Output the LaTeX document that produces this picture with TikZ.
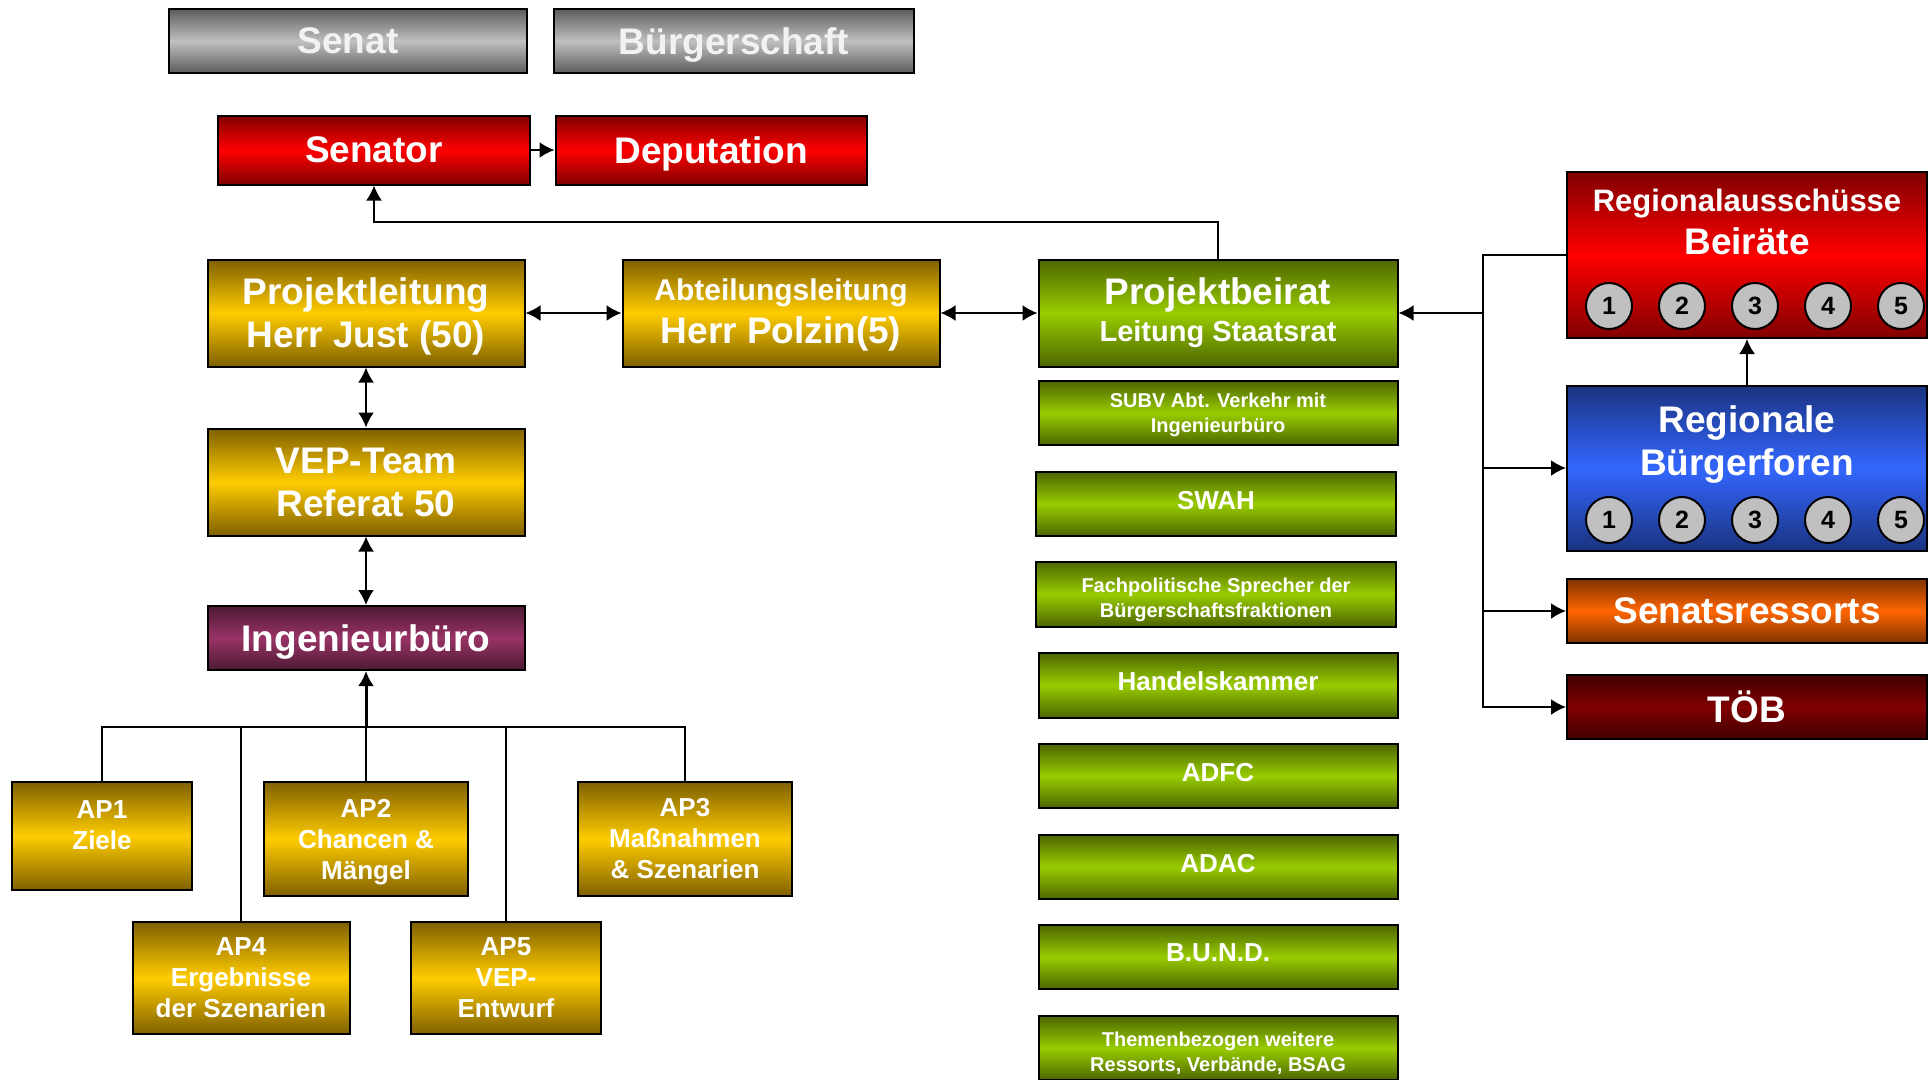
\documentclass[tikz,border=0pt]{standalone}
\usepackage{fontspec}
\setmainfont{Liberation Sans}
\usetikzlibrary{arrows.meta,calc}
\definecolor{GreyDk}{HTML}{5C5C5C}
\definecolor{GreyLt}{HTML}{C0C0C0}
\definecolor{GreyTxt}{HTML}{F2F2F2}
\definecolor{RedDk}{HTML}{800000}
\definecolor{RedLt}{HTML}{FF0000}
\definecolor{GoldDk}{HTML}{7F6000}
\definecolor{GoldLt}{HTML}{FFCC00}
\definecolor{GreenDk}{HTML}{4D6600}
\definecolor{GreenLt}{HTML}{99CC00}
\definecolor{PurpDk}{HTML}{4D1A33}
\definecolor{PurpLt}{HTML}{993366}
\definecolor{BlueDk}{HTML}{1A3380}
\definecolor{BlueLt}{HTML}{3366FF}
\definecolor{OrngDk}{HTML}{803300}
\definecolor{OrngLt}{HTML}{FF6600}
\definecolor{WineDk}{HTML}{400000}
\definecolor{WineLt}{HTML}{800000}

\begin{document}
\begin{tikzpicture}[x=1pt,y=-1pt,line width=2pt,
  >={Latex[length=15pt,width=16pt]},
  box/.style={draw=black,line width=2pt,inner sep=0pt,align=center,text=white},
  fill2/.style 2 args={top color=#1,bottom color=#1,middle color=#2},
  greybox/.style={box,fill2={GreyDk}{GreyLt},text=GreyTxt},
  redbox/.style={box,fill2={RedDk}{RedLt}},
  goldbox/.style={box,fill2={GoldDk}{GoldLt}},
  greenbox/.style={box,fill2={GreenDk}{GreenLt}},
  purpbox/.style={box,fill2={PurpDk}{PurpLt}},
  bluebox/.style={box,fill2={BlueDk}{BlueLt}},
  orngbox/.style={box,fill2={OrngDk}{OrngLt}},
  winebox/.style={box,fill2={WineDk}{WineLt}},
  big/.style={font=\fontsize{37}{43}\selectfont\bfseries},
  mid/.style={font=\fontsize{26}{31}\selectfont\bfseries},
  small/.style={font=\fontsize{20}{25}\selectfont\bfseries},
  nodepth/.style={text depth=0pt},
  raised/.style={text depth=8pt},
  lowered/.style={text height=46pt,text depth=0pt},
  numdot/.style={circle,draw=black,line width=2pt,fill=GreyLt,minimum size=46,inner sep=0pt,
    font=\fontsize{25}{25}\selectfont\bfseries}]
\useasboundingbox (0,0) rectangle (1932,1079);

\node[greybox,big,nodepth,minimum width=358,minimum height=64] (senat) at (348,41) {Senat};
\node[greybox,big,nodepth,minimum width=360,minimum height=64] (buerger) at (734,41) {Bürgerschaft};
\node[redbox,big,nodepth,minimum width=312,minimum height=69] (senator) at (374,150) {Senator};
\node[redbox,big,nodepth,minimum width=311,minimum height=69] (deput) at (711,150) {Deputation};

\node[goldbox,big,nodepth,minimum width=317,minimum height=107] (pleit) at (366,313) {Projektleitung\\Herr Just (50)};
\node[goldbox,big,text depth=4pt,minimum width=317,minimum height=107] (aleit) at (781,313)
  {{\fontsize{30}{36}\selectfont Abteilungsleitung}\\Herr Polzin(5)};
\node[goldbox,big,nodepth,minimum width=317,minimum height=107] (vep) at (366,482) {VEP-Team\\Referat 50};
\node[purpbox,big,nodepth,minimum width=317,minimum height=64] (ingb) at (366,638) {Ingenieurbüro};

\node[goldbox,mid,minimum width=180,minimum height=108] (ap1) at (102,836) {AP1\\Ziele\\[-10pt]{}};
\node[goldbox,mid,nodepth,minimum width=204,minimum height=114] (ap2) at (366,839) {AP2\\Chancen \&\\Mängel};
\node[goldbox,mid,minimum width=214,minimum height=114] (ap3) at (685,839) {AP3\\Maßnahmen\\\& Szenarien};
\node[goldbox,mid,minimum width=217,minimum height=112] (ap4) at (241,978) {AP4\\Ergebnisse\\der Szenarien};
\node[goldbox,mid,minimum width=190,minimum height=112] (ap5) at (506,978) {AP5\\VEP-\\Entwurf};

\node[greenbox,minimum width=359,minimum height=107,font=\fontsize{29}{37}\selectfont\bfseries] (pbeirat) at (1218,313)
  {{\fontsize{37}{43}\selectfont Projektbeirat}\\Leitung Staatsrat};
\node[greenbox,small,nodepth,minimum width=359,minimum height=64] (subv) at (1218,413) {SUBV Abt. Verkehr mit\\Ingenieurbüro};
\node[greenbox,mid,raised,minimum width=360,minimum height=64] (swah) at (1216,504) {SWAH};
\node[greenbox,small,lowered,minimum width=360,minimum height=65] (fach) at (1216,594) {Fachpolitische Sprecher der\\Bürgerschaftsfraktionen};
\node[greenbox,mid,raised,minimum width=359,minimum height=65] (handel) at (1218,685) {Handelskammer};
\node[greenbox,mid,raised,minimum width=359,minimum height=64] (adfc) at (1218,776) {ADFC};
\node[greenbox,mid,raised,minimum width=359,minimum height=64] (adac) at (1218,867) {ADAC};
\node[greenbox,mid,raised,minimum width=359,minimum height=64] (bund) at (1218,957) {B.U.N.D.};
\node[greenbox,small,lowered,minimum width=359,minimum height=64] (themen) at (1218,1048) {Themenbezogen weitere\\Ressorts, Verbände, BSAG};

\node[redbox,minimum width=360,minimum height=166] (regaus) at (1747,255) {};
\node[bluebox,minimum width=360,minimum height=165] (regbf) at (1747,468) {};
\node[orngbox,big,nodepth,minimum width=360,minimum height=64] (senres) at (1747,611) {Senatsressorts};
\node[winebox,big,nodepth,minimum width=360,minimum height=64] (toeb) at (1747,707) {TÖB};
\node[big,text=white,align=center] (regaus-t) at (1747,222) {{\fontsize{31}{36}\selectfont Regionalausschüsse}\\Beiräte};
\node[big,nodepth,text=white,align=center] (regbf-t) at (1747,441) {Regionale\\Bürgerforen};
\foreach \i in {1,...,5} {
  \node[numdot] (ra\i) at (1536+73*\i,306) {\i};
  \node[numdot] (rb\i) at (1536+73*\i,520) {\i};
}

\coordinate (sbend) at (senator.south |- 0,222);
\coordinate (tb) at (366,727);
\coordinate (rb) at (1483,313);

\draw[->] (senator) -- (deput);
\draw[->] (pbeirat.north) |- (sbend) -- (senator.south);
\draw[<->] (pleit) -- (aleit);
\draw[<->] (aleit) -- (pbeirat);
\draw[<->] (pleit) -- (vep);
\draw[<->] (vep) -- (ingb);
\draw[->,line width=3pt] (tb) -- (ingb.south);
\foreach \n in {ap1,ap2,ap3,ap4,ap5}
  \draw (\n.north) |- (tb);
\draw[->] (rb) -- (pbeirat.east);
\draw[->] (regaus.west) -| (rb) |- (toeb.west);
\draw[->] (rb |- regbf.west) -- (regbf.west);
\draw[->] (rb |- senres.west) -- (senres.west);
\draw[->] (regbf) -- (regaus);
\end{tikzpicture}
\end{document}
